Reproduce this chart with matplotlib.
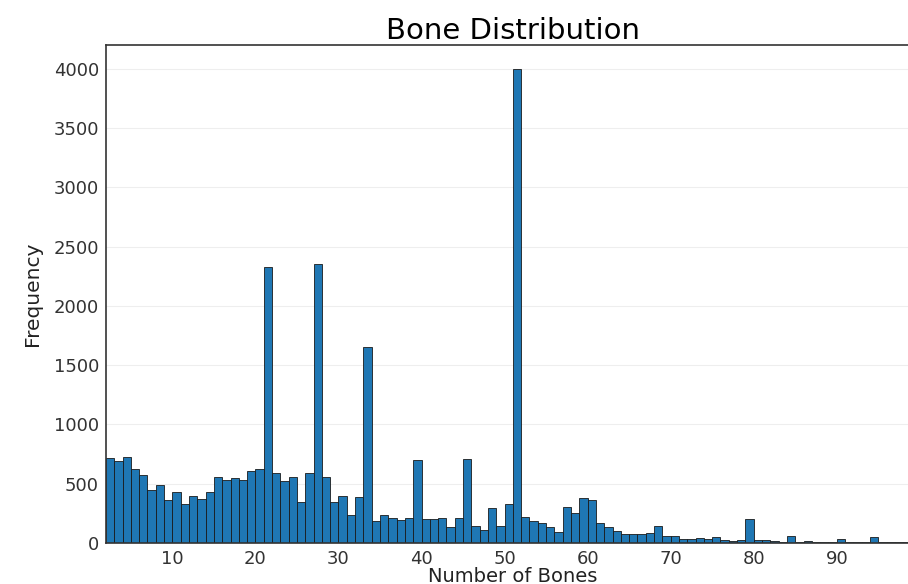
import numpy as np
import matplotlib.pyplot as plt

# numero de huesos (cada barra = un valor entero) y su frecuencia
bones = list(range(2, 100))
freq = [717, 689, 726, 624, 571, 443, 486, 364, 432, 325,
        395, 370, 429, 556, 534, 551, 534, 610, 627, 2326,
        593, 525, 554, 345, 593, 2355, 554, 347, 393, 240,
        390, 1655, 186, 234, 215, 192, 215, 698, 206, 206,
        209, 133, 212, 712, 147, 113, 299, 147, 328, 4000,
        223, 189, 167, 133, 96, 305, 257, 376, 362, 170,
        133, 102, 79, 79, 79, 85, 147, 62, 59, 37,
        37, 42, 37, 54, 25, 14, 23, 203, 25, 25,
        20, 8, 59, 8, 20, 8, 5, 8, 31, 5,
        5, 5, 48, 8, 5, 5, 5, 5]
xticks = [10, 20, 30, 40, 50, 60, 70, 80, 90]
yticks = [0, 500, 1000, 1500, 2000, 2500, 3000, 3500, 4000]

fig = plt.figure(figsize=(9.08, 5.84), dpi=100)
ax = fig.add_axes([0.1167, 0.0702, 0.8963, 0.8528])

edges = np.arange(bones[0], bones[-1] + 2)
ax.hist(bones, bins=edges, weights=freq, color='#1f77b4',
        edgecolor='#1a1a1a', linewidth=0.6)

ax.set_xlim(2, 100)
ax.set_ylim(0, 4200)
ax.set_xticks(xticks)
ax.set_yticks(yticks)
ax.tick_params(length=0, labelsize=13, colors='#333333', pad=5)
ax.yaxis.grid(True, color='#eeeeee', linewidth=0.8)
ax.set_axisbelow(True)
for s in ax.spines.values():
    s.set_color('#333333')
    s.set_linewidth(1.2)

ax.set_title('Bone Distribution', fontsize=21, pad=4)
ax.set_xlabel('Number of Bones', fontsize=14, labelpad=-1, color='#222222')
ax.set_ylabel('Frequency', fontsize=14.5, labelpad=8, color='#222222')

fig.savefig('out.png', dpi=100)
